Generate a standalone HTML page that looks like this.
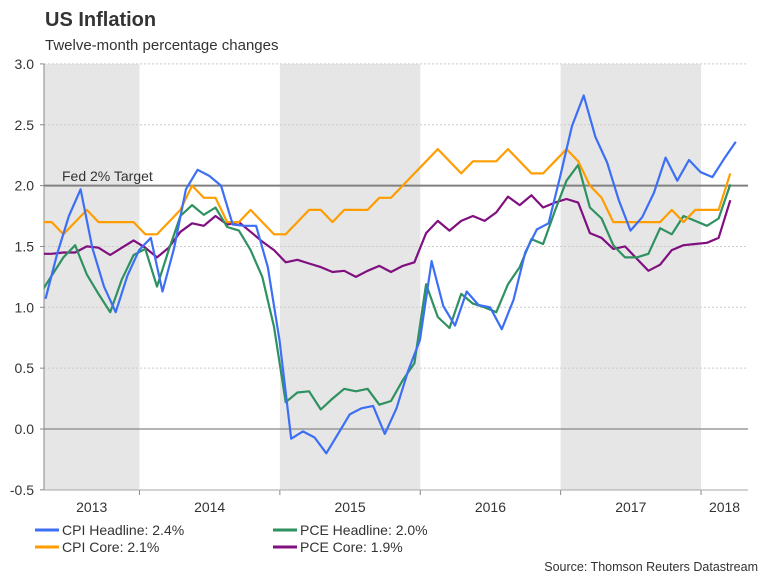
<!DOCTYPE html>
<html><head><meta charset="utf-8"><style>
body{margin:0;background:#fff;}
svg{display:block;font-family:"Liberation Sans",Arial,sans-serif;}
</style></head><body>
<svg id="chart" width="768" height="576" viewBox="0 0 768 576">
<text x="45" y="26" font-size="20" font-weight="bold" fill="#333">US Inflation</text>
<text x="45" y="50" font-size="15" fill="#333">Twelve-month percentage changes</text>
<g id="bands"></g><g id="grid"></g><g id="axes"></g>
<defs><clipPath id="clip"><rect x="44" y="40" width="710" height="460"/></clipPath></defs>
<g id="series" clip-path="url(#clip)"></g>
<text x="62" y="181" font-size="14" fill="#333">Fed 2% Target</text>
<g id="legend"></g>
<text x="758" y="571" font-size="12.5" fill="#333" text-anchor="end">Source: Thomson Reuters Datastream</text>
</svg>
<script>
// months: index 0 = Apr 2013 ... 59 = Mar 2018
const yTicks = [3.0, 2.5, 2.0, 1.5, 1.0, 0.5, 0.0, -0.5];
const yearLabels = ["2013","2014","2015","2016","2017","2018"];
const cpiHeadline = [1.07,1.44,1.75,1.97,1.49,1.17,0.96,1.26,1.47,1.57,1.13,1.49,1.97,2.13,2.08,2.0,1.68,1.67,1.67,1.33,0.73,-0.08,-0.02,-0.07,-0.2,-0.04,0.12,0.17,0.19,-0.04,0.17,0.48,0.73,1.38,1.01,0.85,1.13,1.02,1.0,0.82,1.06,1.45,1.64,1.69,2.08,2.49,2.74,2.40,2.19,1.88,1.63,1.74,1.94,2.23,2.04,2.21,2.11,2.07,2.22,2.36];
const cpiCore = [1.7,1.7,1.6,1.7,1.8,1.7,1.7,1.7,1.7,1.6,1.6,1.7,1.8,2.0,1.9,1.9,1.7,1.7,1.8,1.7,1.6,1.6,1.7,1.8,1.8,1.7,1.8,1.8,1.8,1.9,1.9,2.0,2.1,2.2,2.3,2.2,2.1,2.2,2.2,2.2,2.3,2.2,2.1,2.1,2.2,2.3,2.2,2.0,1.9,1.7,1.7,1.7,1.7,1.7,1.8,1.7,1.8,1.8,1.8,2.1];
const pceHeadline = [1.11,1.26,1.41,1.51,1.27,1.11,0.96,1.23,1.43,1.48,1.17,1.47,1.75,1.84,1.76,1.82,1.66,1.63,1.47,1.25,0.84,0.22,0.30,0.31,0.16,0.25,0.33,0.31,0.33,0.20,0.23,0.40,0.54,1.19,0.92,0.83,1.11,1.03,1.0,0.96,1.19,1.33,1.56,1.52,1.79,2.04,2.17,1.82,1.73,1.51,1.41,1.41,1.44,1.65,1.60,1.75,1.71,1.67,1.73,2.01];
const pceCore = [1.44,1.44,1.45,1.45,1.50,1.49,1.43,1.49,1.55,1.49,1.41,1.49,1.62,1.69,1.67,1.75,1.68,1.70,1.62,1.54,1.47,1.37,1.39,1.36,1.33,1.29,1.30,1.25,1.30,1.34,1.29,1.34,1.37,1.61,1.71,1.63,1.71,1.75,1.71,1.78,1.91,1.84,1.92,1.82,1.86,1.89,1.86,1.61,1.57,1.48,1.50,1.40,1.30,1.35,1.47,1.51,1.52,1.53,1.57,1.88];
const fedTarget = 2.0;

const NS="http://www.w3.org/2000/svg";
const L=44,R=748,T=64,B=490;
const x=m=>40+m*11.7;
const y=v=>429-v*121.7;
function mk(tag,attrs,parent){const e=document.createElementNS(NS,tag);for(const k in attrs)e.setAttribute(k,attrs[k]);parent.appendChild(e);return e;}
const bands=document.getElementById('bands'),grid=document.getElementById('grid'),axes=document.getElementById('axes'),ser=document.getElementById('series'),leg=document.getElementById('legend');
yearLabels.forEach((yl,i)=>{
  const x0=Math.max(L,x(-3.5+12*i)), x1=Math.min(R,x(8.5+12*i));
  if(i%2===0){const r=mk('rect',{x:x0,y:T,width:x1-x0,height:B-T,fill:'#e6e6e6'},bands);
    
    }
  const t=mk('text',{x:(x0+x1)/2,y:512,'font-size':14,fill:'#333','text-anchor':'middle'},axes);
  t.textContent=yl;
  
  
  if(i>0){const tk=mk('line',{x1:x0,x2:x0,y1:B,y2:B+5,stroke:'#888'},axes);
    
    }
});
yTicks.forEach(v=>{
  const yy=y(v);
  const g=mk('line',{x1:L,x2:R,y1:yy,y2:yy,stroke:v===0?'#888':'#ccc','stroke-width':v===0?1.3:1,'stroke-dasharray':v===0?'':'2,2'},grid);
  
  
  const tk=mk('line',{x1:L-4,x2:L,y1:yy,y2:yy,stroke:'#888'},axes);
  
  
  const t=mk('text',{x:34,y:yy+5,'font-size':14,fill:'#333','text-anchor':'end'},axes);
  t.textContent=v.toFixed(1);
  
  
});
const ax=mk('line',{x1:L,x2:L,y1:T,y2:B,stroke:'#888'},axes);


const bx=mk('line',{x1:L,x2:R,y1:B,y2:B,stroke:'#aaa'},axes);


const fl=mk('line',{x1:L,x2:R,y1:y(fedTarget),y2:y(fedTarget),stroke:'#808080','stroke-width':2},grid);


const series=[
 {name:'pce-core',data:pceCore,c:'#800f80',off:0},
 {name:'pce-headline',data:pceHeadline,c:'#2e9160',off:0},
 {name:'cpi-core',data:cpiCore,c:'#ff9d00',off:0},
 {name:'cpi-headline',data:cpiHeadline,c:'#3d6ff5',off:5.5}];
series.forEach(s=>{
  const p=mk('polyline',{points:s.data.map((v,i)=>(x(i)+s.off).toFixed(1)+','+y(v).toFixed(1)).join(' '),fill:'none',stroke:s.c,'stroke-width':2.2,'stroke-linejoin':'round'},ser);
  
  
});
const legs=[['CPI Headline: 2.4%','#3d6ff5',35,530],['CPI Core: 2.1%','#ff9d00',35,547],['PCE Headline: 2.0%','#2e9160',273,530],['PCE Core: 1.9%','#800f80',273,547]];
legs.forEach(l=>{
  const g=mk('g',{},leg);
  
  
  mk('line',{x1:l[2],x2:l[2]+24,y1:l[3],y2:l[3],stroke:l[1],'stroke-width':3},g);
  const t=mk('text',{x:l[2]+27,y:l[3]+5,'font-size':14,fill:'#333'},g);
  t.textContent=l[0];
});
</script>
</body></html>
